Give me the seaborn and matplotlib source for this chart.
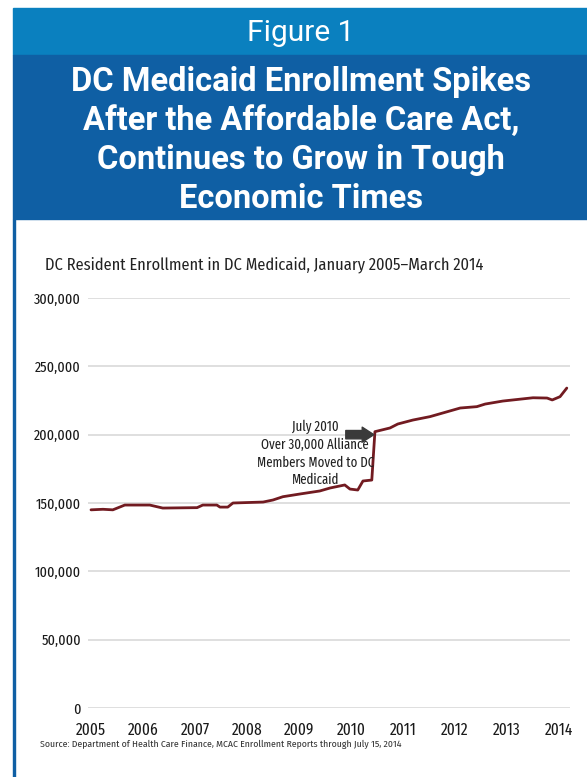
import matplotlib
matplotlib.use("Agg")
import matplotlib.pyplot as plt
import seaborn as sns
import pandas as pd
from matplotlib.patches import Rectangle

# ---- data (decimal year, enrollment) ----
years = [2005.0, 2005.23, 2005.42, 2005.65, 2006.13, 2006.38, 2007.04, 2007.15,
         2007.42, 2007.48, 2007.63, 2007.73, 2008.31, 2008.5, 2008.69, 2009.02,
         2009.4, 2009.6, 2009.88, 2009.98, 2010.13, 2010.23, 2010.4, 2010.46,
         2010.75, 2010.9, 2011.19, 2011.52, 2012.1, 2012.42, 2012.58, 2012.92,
         2013.5, 2013.77, 2013.87, 2014.02, 2014.15]
enrollment = [145000, 145400, 145000, 148500, 148500, 146300, 146600, 148500,
              148500, 147000, 147000, 150000, 150700, 152200, 154600, 156600,
              158800, 161000, 163200, 160200, 159500, 166100, 166800, 202200,
              204900, 207800, 210700, 213200, 219500, 220500, 222400, 224600,
              227000, 226800, 225400, 227800, 234100]
x_ticks = [2005, 2006, 2007, 2008, 2009, 2010, 2011, 2012, 2013, 2014]
y_ticks = [0, 50000, 100000, 150000, 200000, 250000, 300000]
y_tick_labels = ["0", "50,000", "100,000", "150,000", "200,000", "250,000", "300,000"]

header_label = "Figure 1"
title_text = ("DC Medicaid Enrollment Spikes\nAfter the Affordable Care Act,\n"
              "Continues to Grow in Tough\nEconomic Times")
subtitle = "DC Resident Enrollment in DC Medicaid, January 2005\u2013March 2014"
note_text = "July 2010\nOver 30,000 Alliance\nMembers Moved to DC\nMedicaid"
source_text = "Source: Department of Health Care Finance, MCAC Enrollment Reports through July 15, 2014"

sns.set_theme(style="white")
COND = ["Fira Sans Condensed", "Archivo Narrow", "DejaVu Sans"]
XCOND = ["Fira Sans Extra Condensed", "Fira Sans Condensed", "DejaVu Sans"]
HEAD = ["Roboto", "DejaVu Sans"]
plt.rcParams["font.family"] = COND

W, H = 587, 777
fig = plt.figure(figsize=(W / 100, H / 100), dpi=100)
fig.patch.set_facecolor("white")

def fx(px):
    return px / W

def fy(py):
    return 1 - py / H

light_blue = "#0a80bf"
dark_blue = "#0f5fa4"
fig.add_artist(Rectangle((fx(13), fy(55)), fx(587 - 13), 47 / H,
                         transform=fig.transFigure, color=light_blue, zorder=0))
fig.add_artist(Rectangle((fx(13), fy(219)), fx(587 - 13), 164 / H,
                         transform=fig.transFigure, color=dark_blue, zorder=0))
fig.add_artist(Rectangle((fx(12.5), 0), fx(2.5), fy(219),
                         transform=fig.transFigure, color=dark_blue, zorder=0))

fig.text(fx(301), fy(33), header_label, color="white", fontsize=21.5,
         family=HEAD, ha="center", va="center")
fig.text(fx(301), fy(140), title_text, color="white", fontsize=23.5,
         family=HEAD, fontweight="bold",
         ha="center", va="center", linespacing=1.28)

fig.text(fx(45), fy(265), subtitle, color="#222222", fontsize=11.8,
         ha="left", va="center")
fig.text(fx(40), fy(744), source_text, color="#333333", fontsize=7,
         ha="left", va="center")

x_left_px, x_right_px = 88, 570
ax = fig.add_axes([fx(x_left_px), fy(708), fx(x_right_px - x_left_px), (708 - 298) / H])
df = pd.DataFrame({"year": years, "enrollment": enrollment})
sns.lineplot(data=df, x="year", y="enrollment", ax=ax, color="#721b21",
             linewidth=2.0, zorder=3)

ppy = 52.0
ax.set_xlim(2005 - (91 - x_left_px) / ppy, 2005 + (x_right_px - 91) / ppy)
ax.set_ylim(0, 300000)
ax.set_xticks(x_ticks)
ax.set_xticklabels([str(t) for t in x_ticks], family=XCOND)
ax.set_yticks(y_ticks)
ax.set_yticklabels(y_tick_labels, family=XCOND)
ax.set_xlabel("")
ax.set_ylabel("")
for s in ax.spines.values():
    s.set_visible(False)
ax.yaxis.grid(True, color="#dcdcdc", linewidth=1.3)
ax.xaxis.grid(False)
ax.tick_params(axis="y", length=0, pad=5, labelsize=11, labelcolor="#1a1a1a")
ax.tick_params(axis="x", length=0, pad=10, labelsize=12, labelcolor="#1a1a1a")
ax.set_facecolor("none")

ax.text(2009.31, 186200, note_text, ha="center", va="center", fontsize=10,
        family=XCOND, color="#222222", linespacing=1.3, zorder=4)
ax.annotate("", xy=(2010.44, 200000), xytext=(2009.9, 200000),
            arrowprops=dict(arrowstyle="simple,head_length=0.7,head_width=0.9,tail_width=0.5",
                            color="#3a3a3a", shrinkA=0, shrinkB=0), zorder=4)

fig.savefig("out.png", dpi=100, facecolor="white")
